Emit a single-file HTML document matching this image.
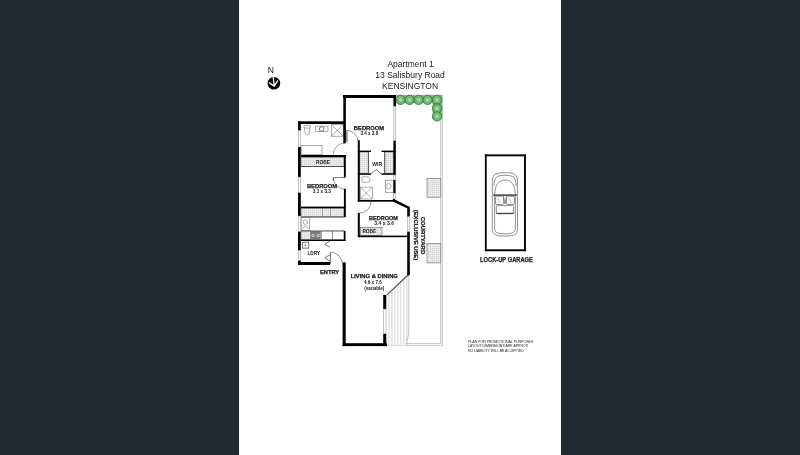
<!DOCTYPE html>
<html><head><meta charset="utf-8"><title>Floor plan</title>
<style>
html,body{margin:0;padding:0;width:800px;height:455px;overflow:hidden;background:rgb(33,42,51);}
svg{position:absolute;left:0;top:0;display:block;will-change:transform}
text{font-family:"Liberation Sans",sans-serif;fill:#1a1a1a}
.b{font-weight:bold}
.s{stroke:#1a1a1a;stroke-width:.25}
.w{fill:#000}
.h{fill:url(#hatch);stroke:#666;stroke-width:.6}
.f{fill:none;stroke:#777;stroke-width:.6}
.fd{fill:none;stroke:#444;stroke-width:.7}
.win{fill:#fff;stroke:#888;stroke-width:.5}
</style></head>
<body>
<svg width="800" height="455" viewBox="0 0 800 455">
<defs>
<pattern id="hatch" width="2" height="2" patternUnits="userSpaceOnUse">
<rect width="2" height="2" fill="#ebebeb"/><rect width="1" height="1" fill="#d0d0d0"/>
</pattern>
<pattern id="dots" x="387.4" width="3" height="2" patternUnits="userSpaceOnUse">
<rect width="3" height="2" fill="#fff"/><rect x="1" width="1" height="2" fill="#d2d2d8"/>
</pattern>
</defs>
<rect x="239" y="0" width="322" height="455" fill="#fff"/>

<!-- North arrow -->
<text x="267.8" y="73.4" font-size="8.6" textLength="6.2" lengthAdjust="spacingAndGlyphs">N</text>
<circle cx="273.9" cy="83.2" r="6.3" fill="#000"/>
<path d="M273.3,77.5 L274.2,86.2 M269.4,82.9 L274.2,86.2 L277.6,80.9" fill="none" stroke="#fff" stroke-width="1.3" stroke-linecap="round" stroke-linejoin="round"/>

<!-- Title -->
<g font-size="8.5" text-anchor="middle">
<text x="410.6" y="66.8">Apartment 1</text>
<text x="410.1" y="78.2">13 Salisbury Road</text>
<text x="410.1" y="88.7">KENSINGTON</text>
</g>

<!-- Courtyard -->
<rect x="427" y="178.4" width="13.8" height="18.8" class="h"/>
<rect x="427" y="243.3" width="13.8" height="19.6" class="h"/>
<path d="M396,95.2 H442.4 V345.6 H387 M440.6,104 V343.6 H387" fill="none" stroke="#999" stroke-width=".6"/>
<!-- deck hatch -->
<path d="M387,296 L408.5,275 V333 L406,345.5 H387 Z" fill="url(#dots)"/>
<path d="M387.2,294.6 L408.3,274.8" stroke="#555" stroke-width="1.3"/>
<path d="M408.8,275 V333 L406.3,345" fill="none" stroke="#999" stroke-width=".6"/>

<!-- shrubs -->
<g fill="#78b678" stroke="#2e7a38" stroke-width=".85">
<rect x="396.3" y="95.2" width="45.8" height="8" stroke="none"/>
<rect x="432.5" y="95.2" width="9.6" height="24" stroke="none"/>
<circle cx="400.6" cy="99.9" r="4.6"/>
<circle cx="409.6" cy="99.9" r="4.6"/>
<circle cx="418.6" cy="99.9" r="4.6"/>
<circle cx="427.6" cy="99.9" r="4.6"/>
<circle cx="437" cy="99.9" r="4.6"/>
<circle cx="437" cy="108.4" r="4.6"/>
<circle cx="437" cy="116.4" r="4.6"/>
</g>
<g fill="#a6d6a6" stroke="none">
<circle cx="400.6" cy="99.9" r="1.8"/>
<circle cx="409.6" cy="99.9" r="1.8"/>
<circle cx="418.6" cy="99.9" r="1.8"/>
<circle cx="427.6" cy="99.9" r="1.8"/>
<circle cx="437" cy="99.9" r="1.8"/>
<circle cx="437" cy="108.4" r="1.8"/>
<circle cx="437" cy="116.4" r="1.8"/>
</g>

<!-- ===== Fixtures ===== -->
<!-- bathroom -->
<path d="M304,125.5 H310.3 V128 H304 Z M304.6,128 C304.3,133 306,135 307.2,135 C308.4,135 310,133 309.7,128" class="f"/>
<rect x="315.4" y="126.1" width="12.6" height="5.4" class="f"/>
<circle cx="321.7" cy="129" r="2.3" fill="none" stroke="#555" stroke-width=".8"/>
<rect x="331.3" y="124.6" width="12" height="11.6" class="f"/>
<path d="M331.3,124.6 L343.3,136.2 M343.3,124.6 L331.3,136.2" class="f"/>
<rect x="301.8" y="145.3" width="20.2" height="9.4" class="f"/>
<!-- robe 1 -->
<rect x="301" y="157.3" width="43" height="9" class="h"/>
<!-- kitchen -->
<rect x="301" y="208.2" width="43" height="8.4" class="h"/>
<path d="M322.5,208.2 V216.6 M330.5,208.2 V216.6" class="f"/>
<rect x="301" y="216.6" width="43" height="1" fill="#555"/>
<rect x="301.2" y="217.6" width="8.4" height="12.8" class="f"/>
<circle cx="305.4" cy="222.2" r="2.3" class="f"/>
<path d="M302.5,229 L305.4,225.6 L308.3,229" class="f"/>
<rect x="301" y="230.9" width="9.5" height="8.7" class="h"/>
<rect x="310.5" y="230.9" width="10.2" height="8.7" fill="#7a7a7a"/>
<circle cx="313.1" cy="235.5" r="1.7" fill="#cfcfcf"/>
<circle cx="318.2" cy="235.5" r="1.7" fill="#cfcfcf"/>
<circle cx="313.1" cy="235.5" r=".7" fill="#666"/>
<circle cx="318.2" cy="235.5" r=".7" fill="#666"/>
<rect x="321.3" y="230.9" width="11.2" height="8.7" class="f"/>
<rect x="332.5" y="230.9" width="11.5" height="8.7" class="f"/>
<rect x="301" y="230.6" width="43" height=".8" fill="#555"/>
<!-- laundry -->
<rect x="302.3" y="242.2" width="6.5" height="5.9" class="fd"/>
<circle cx="305.5" cy="245.2" r=".8" fill="#444"/>
<path d="M330,241.3 L324.6,244.3 L330,247.3 M330,254.8 L324.6,257.8 L330,261" class="fd"/>
<!-- WIR -->
<rect x="359.8" y="152" width="8.6" height="21.3" class="h"/>
<rect x="384.6" y="152" width="8.8" height="21.3" class="h"/>
<path d="M371,174 L376.3,169.6 L381.5,174" class="fd"/>
<!-- ensuite -->
<path d="M362,176.8 H366.5 C369.5,176.8 370,178 370,179.6 C370,181.2 369.5,182.4 366.5,182.4 H362 Z" class="f"/>
<rect x="360.4" y="187.1" width="11.9" height="11.9" class="f"/>
<path d="M360.4,187.1 L372.3,199 M372.3,187.1 L360.4,199" class="f"/>
<rect x="385.3" y="180.2" width="7.9" height="12.1" class="f"/>
<circle cx="388.4" cy="186.3" r="2.7" class="f"/>
<!-- robe 3 -->
<rect x="360.4" y="227.3" width="21.6" height="8.3" class="h"/>

<!-- doors -->
<g fill="none" stroke="#555" stroke-width=".6">
<path d="M346.5,130.3 A12,12 0 0 1 358.3,142"/>
<path d="M333,155 A12,12 0 0 1 345,143"/>
<path d="M333.2,177.5 A12,12 0 0 0 345,189.2"/>
<path d="M359.8,212.9 A11.3,11.3 0 0 0 371.1,201.6"/>
<path d="M330.5,252.3 A12,12 0 0 1 342.5,264.3"/>
</g>
<rect x="345.8" y="130.3" width="2" height="11.5" fill="#999"/>
<path d="M333.2,177.5 H345 M333.2,177.5 V181" stroke="#444" stroke-width=".7"/>
<path d="M330.4,252.3 V264.3" stroke="#444" stroke-width=".8"/>

<!-- ===== Walls ===== -->
<g class="w">
<!-- master bedroom -->
<rect x="343" y="95" width="53" height="3"/>
<rect x="343.3" y="95" width="2.6" height="48.2"/>
<rect x="393.4" y="95" width="2.6" height="11"/>
<rect x="393.4" y="140.5" width="2.4" height="34.5"/>
<rect x="393.4" y="180" width="2.2" height="13.2"/>
<!-- bathroom -->
<rect x="298" y="121.3" width="47" height="2.7"/>
<rect x="298" y="121.3" width="2.8" height="9.2"/>
<rect x="298" y="147" width="2.8" height="30"/>
<rect x="298" y="192.6" width="2.8" height="23.4"/>
<rect x="298" y="231.4" width="2.8" height="19.1"/>
<rect x="298" y="260.4" width="2.8" height="4.6"/>
<rect x="298" y="262" width="32" height="3"/>
<rect x="301" y="155" width="44.8" height="2"/>
<rect x="301" y="166.1" width="43" height=".9" fill="#444"/>
<!-- bedroom 2 east -->
<rect x="343.9" y="155" width="1.9" height="22.5"/>
<rect x="343.9" y="188.8" width="1.9" height="28.4"/>
<rect x="301" y="206.6" width="44.8" height="1.6"/>
<rect x="301" y="239.6" width="44.5" height="1.4"/>
<rect x="343.9" y="230.9" width="1.6" height="10.1"/>
<!-- corridor right / bedroom3 west -->
<rect x="357.8" y="140.2" width="2" height="61.4"/>
<rect x="357.8" y="212.9" width="2" height="24.2"/>
<!-- WIR walls -->
<rect x="357.8" y="150.6" width="13.2" height="1.4"/>
<rect x="381.5" y="150.6" width="13.9" height="1.4"/>
<rect x="357.8" y="173.3" width="13.2" height="1.5"/>
<rect x="381.5" y="173.3" width="13.9" height="1.5"/>
<rect x="367.9" y="152" width=".8" height="21.3" fill="#444"/>
<rect x="384.4" y="152" width=".8" height="21.3" fill="#444"/>
<!-- ensuite bottom / bedroom3 top -->
<rect x="357.8" y="200" width="36" height="1.7"/>
<path d="M393,198.6 L408.6,206.4 L407.6,208.6 L392.6,201.4 Z"/>
<!-- bedroom3 east -->
<rect x="407.2" y="206.5" width="2.6" height="10.2"/>
<rect x="407.2" y="231.5" width="2.6" height="42.5"/>
<rect x="358.5" y="235.6" width="50" height="1.6"/>
<!-- living -->
<rect x="342.6" y="262.3" width="3.1" height="83.8"/>
<rect x="342.6" y="343.2" width="44.3" height="2.9"/>
<rect x="383.2" y="295" width="3.1" height="14"/>
<rect x="383.2" y="333.6" width="3.1" height="12.5"/>
<circle cx="408.5" cy="274" r="1.4"/>
<!-- garage -->
<rect x="484.9" y="154.4" width="41" height="1.9"/>
<rect x="484.9" y="154.4" width="1.8" height="96.8"/>
<rect x="524" y="154.4" width="1.9" height="96.8"/>
<rect x="484.9" y="249.3" width="41" height="1.9"/>
</g>
<!-- windows -->
<g class="win">
<rect x="393.9" y="106" width="1.4" height="34.5"/>
<rect x="298.3" y="130.5" width="2.2" height="16.5"/>
<rect x="298.3" y="177" width="2.2" height="15.6"/>
<rect x="298.3" y="216" width="2.2" height="15.4"/>
<rect x="298.3" y="250.5" width="2.2" height="9.9"/>
<rect x="407.5" y="216.7" width="2" height="14.8"/>
<rect x="383.5" y="309" width="2.5" height="24.6"/>
<rect x="393.7" y="175" width="1.6" height="5"/>
<rect x="393.7" y="193.2" width="1.6" height="5.5"/>
</g>

<!-- car -->
<g fill="none" stroke="#555" stroke-width=".65">
<path d="M492.3,182 C492.3,175 494,172.7 505,172.7 C516,172.7 517.5,175 517.5,182 V229 C517.5,234.5 515,236 505,236 C495,236 492.3,234.5 492.3,229 Z"/>
<path d="M494,186 C494,177.8 496,175.3 505,175.3 C514,175.3 516,177.8 516,186"/>
<path d="M494.6,194.5 C495,184.5 499,180 505,180 C511,180 515,184.5 515.4,194.5"/>
<path d="M494.6,194 V228 C494.6,232.5 497,233.8 505,233.8 C513,233.8 515.4,232.5 515.4,228 V194"/>
<rect x="495.6" y="196.2" width="8" height="8.3" rx="1"/>
<rect x="506.4" y="196.2" width="8" height="8.3" rx="1"/>
<rect x="496.3" y="205.6" width="17.4" height="8.2" rx="1"/>
<path d="M503.5,196.5 L505,204 L506.5,196.5"/>
</g>
<rect x="493.2" y="194.3" width="23.6" height="1.7" fill="#555"/>
<rect x="496.3" y="212.8" width="17.4" height="1.2" fill="#444"/>
<path d="M497.5,198 L500,203 M509,198 L511.5,203" stroke="#999" stroke-width=".6"/>

<!-- ===== Labels ===== -->
<g class="b s">
<text x="353.8" y="129.7" font-size="6.2" textLength="30.4" lengthAdjust="spacingAndGlyphs">BEDROOM</text>
<text x="306.9" y="187.5" font-size="6" textLength="30.3" lengthAdjust="spacingAndGlyphs">BEDROOM</text>
<text x="369" y="220.2" font-size="6" textLength="29" lengthAdjust="spacingAndGlyphs">BEDROOM</text>
<text x="350.7" y="277.9" font-size="5.8" textLength="47.2" lengthAdjust="spacingAndGlyphs">LIVING &amp; DINING</text>
<text x="320" y="273.7" font-size="5.6" textLength="19.2" lengthAdjust="spacingAndGlyphs">ENTRY</text>
<text x="480" y="261.9" font-size="6.3" textLength="52.9" lengthAdjust="spacingAndGlyphs">LOCK-UP GARAGE</text>
</g>
<g class="b" font-size="4.8">
<text x="316.1" y="163.8" textLength="13.9" lengthAdjust="spacingAndGlyphs">ROBE</text>
<text x="362.4" y="233.1" textLength="13.9" lengthAdjust="spacingAndGlyphs">ROBE</text>
<text x="372.3" y="165.7" textLength="9.9" lengthAdjust="spacingAndGlyphs">WIR</text>
<text x="307.5" y="254.9" textLength="12.5" lengthAdjust="spacingAndGlyphs">LDRY</text>
</g>
<g font-size="4.9" class="b">
<text x="360.4" y="134.6" textLength="17.8" lengthAdjust="spacingAndGlyphs">3.4 x 3.8</text>
<text x="312.8" y="192.7" textLength="18.1" lengthAdjust="spacingAndGlyphs">3.1 x 3.3</text>
<text x="374.3" y="224.6" textLength="19.7" lengthAdjust="spacingAndGlyphs">3.4 x 3.6</text>
<text x="364" y="284.1" textLength="17.8" lengthAdjust="spacingAndGlyphs">4.6 x 7.6</text>
<text x="364.2" y="289.6" textLength="20.2" lengthAdjust="spacingAndGlyphs">(variable)</text>
</g>
<g class="b s" font-size="6">
<text transform="translate(420.8,216.7) rotate(90)" textLength="37.5" lengthAdjust="spacingAndGlyphs">COURTYARD</text>
<text transform="translate(413.8,209.8) rotate(90)" textLength="50.3" lengthAdjust="spacingAndGlyphs">(EXCLUSIVE USE)</text>
</g>
<g font-size="3.5" fill="#333">
<text x="468" y="342.6" textLength="65.3" lengthAdjust="spacingAndGlyphs">PLAN FOR PROMOTIONAL PURPOSES</text>
<text x="468" y="346.9" textLength="60" lengthAdjust="spacingAndGlyphs">LAYOUT DIMENSIONS ARE APPROX</text>
<text x="468" y="351.9" textLength="55.8" lengthAdjust="spacingAndGlyphs">NO LIABILITY WILL BE ACCEPTED</text>
</g>
</svg>
</body></html>
